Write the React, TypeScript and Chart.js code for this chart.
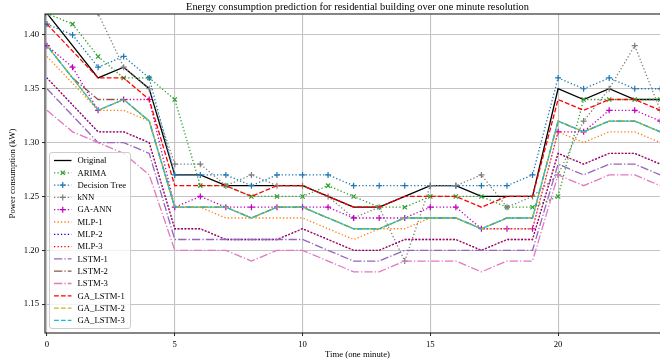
import React, { useEffect, useRef } from "react";
import { Chart, registerables } from "chart.js";

Chart.register(...registerables);

const TITLE = "Energy consumption prediction for residential building over one minute resolution";
const X_LABEL = "Time (one minute)";
const Y_LABEL = "Power consumption (kW)";

const TIME = [0, 1, 2, 3, 4, 5, 6, 7, 8, 9, 10, 11, 12, 13, 14, 15, 16, 17, 18, 19, 20, 21, 22, 23, 24];
const X_TICKS = [0, 5, 10, 15, 20];
const Y_TICKS = [1.15, 1.2, 1.25, 1.3, 1.35, 1.4];

const ORIGINAL = [1.42, 1.39, 1.36, 1.37, 1.35, 1.27, 1.27, 1.26, 1.26, 1.26, 1.26, 1.25, 1.24, 1.24, 1.25, 1.26, 1.26, 1.25, 1.25, 1.25, 1.35, 1.34, 1.35, 1.34, 1.34];
const ARIMA = [1.42, 1.41, 1.38, 1.36, 1.36, 1.34, 1.26, 1.26, 1.25, 1.25, 1.25, 1.26, 1.25, 1.24, 1.24, 1.25, 1.25, 1.25, 1.24, 1.24, 1.25, 1.34, 1.34, 1.34, 1.34];
const DECISION_TREE = [1.41, 1.4, 1.37, 1.38, 1.36, 1.27, 1.27, 1.27, 1.26, 1.27, 1.27, 1.27, 1.26, 1.26, 1.26, 1.26, 1.26, 1.26, 1.26, 1.27, 1.36, 1.35, 1.36, 1.35, 1.35];
const KNN = [1.46, 1.44, 1.42, 1.37, 1.35, 1.28, 1.28, 1.26, 1.27, 1.26, 1.26, 1.25, 1.23, 1.24, 1.19, 1.26, 1.26, 1.27, 1.24, 1.25, 1.27, 1.32, 1.35, 1.39, 1.33];
const GA_ANN = [1.39, 1.37, 1.33, 1.34, 1.34, 1.24, 1.25, 1.24, 1.24, 1.24, 1.24, 1.24, 1.23, 1.23, 1.23, 1.24, 1.24, 1.22, 1.22, 1.22, 1.31, 1.31, 1.33, 1.33, 1.32];
const MLP_1 = [1.38, 1.355, 1.33, 1.33, 1.32, 1.24, 1.24, 1.23, 1.23, 1.23, 1.23, 1.22, 1.21, 1.22, 1.22, 1.23, 1.23, 1.22, 1.22, 1.22, 1.31, 1.3, 1.31, 1.31, 1.3];
const MLP_2 = [1.36, 1.335, 1.31, 1.31, 1.3, 1.22, 1.22, 1.21, 1.21, 1.21, 1.22, 1.21, 1.2, 1.2, 1.21, 1.21, 1.21, 1.2, 1.21, 1.21, 1.29, 1.28, 1.29, 1.29, 1.28];
const MLP_3 = [1.36, 1.335, 1.31, 1.31, 1.3, 1.22, 1.22, 1.21, 1.21, 1.21, 1.22, 1.21, 1.2, 1.2, 1.21, 1.21, 1.21, 1.2, 1.21, 1.21, 1.29, 1.28, 1.29, 1.29, 1.28];
const LSTM_1 = [1.35, 1.325, 1.3, 1.3, 1.29, 1.21, 1.21, 1.21, 1.21, 1.21, 1.21, 1.2, 1.19, 1.19, 1.2, 1.2, 1.2, 1.2, 1.2, 1.2, 1.28, 1.27, 1.28, 1.28, 1.27];
const LSTM_2 = [1.39, 1.36, 1.34, 1.34, 1.32, 1.24, 1.24, 1.24, 1.23, 1.24, 1.24, 1.23, 1.22, 1.22, 1.23, 1.23, 1.23, 1.22, 1.23, 1.23, 1.32, 1.31, 1.32, 1.32, 1.31];
const LSTM_3 = [1.33, 1.31, 1.3, 1.29, 1.27, 1.2, 1.2, 1.2, 1.19, 1.2, 1.2, 1.19, 1.18, 1.18, 1.19, 1.19, 1.19, 1.18, 1.19, 1.19, 1.27, 1.26, 1.27, 1.27, 1.26];
const GA_LSTM_1 = [1.41, 1.385, 1.36, 1.36, 1.34, 1.26, 1.26, 1.26, 1.25, 1.26, 1.26, 1.25, 1.24, 1.24, 1.25, 1.25, 1.25, 1.24, 1.25, 1.25, 1.34, 1.33, 1.34, 1.34, 1.33];
const GA_LSTM_2 = [1.39, 1.36, 1.33, 1.34, 1.32, 1.24, 1.24, 1.24, 1.23, 1.24, 1.24, 1.23, 1.22, 1.22, 1.23, 1.23, 1.23, 1.22, 1.23, 1.23, 1.32, 1.31, 1.32, 1.32, 1.31];
const GA_LSTM_3 = [1.39, 1.36, 1.33, 1.34, 1.32, 1.24, 1.24, 1.24, 1.23, 1.24, 1.24, 1.23, 1.22, 1.22, 1.23, 1.23, 1.23, 1.22, 1.23, 1.23, 1.32, 1.31, 1.32, 1.32, 1.31];

const LW = 1.3;
const DASHES: Record<string, number[]> = {
  solid: [],
  dotted: [1.3, 2.15],
  dashed: [4.8, 2.1],
  dashdot: [8.3, 2.1, 1.3, 2.1],
};

type Series = { label: string; data: number[]; color: string; dash: string; offset?: number; marker?: string };

const SERIES: Series[] = [
  { label: "Original", data: ORIGINAL, color: "#000000", dash: "solid" },
  { label: "ARIMA", data: ARIMA, color: "#2ca02c", dash: "dotted", marker: "crossRot" },
  { label: "Decision Tree", data: DECISION_TREE, color: "#1f77b4", dash: "dotted", marker: "cross" },
  { label: "kNN", data: KNN, color: "#7f7f7f", dash: "dotted", marker: "cross" },
  { label: "GA-ANN", data: GA_ANN, color: "#bf00bf", dash: "dotted", marker: "cross" },
  { label: "MLP-1", data: MLP_1, color: "#ff7f0e", dash: "dotted" },
  { label: "MLP-2", data: MLP_2, color: "#0000ff", dash: "dotted" },
  { label: "MLP-3", data: MLP_3, color: "#ff0000", dash: "dotted", offset: 0.8 },
  { label: "LSTM-1", data: LSTM_1, color: "#9467bd", dash: "dashdot" },
  { label: "LSTM-2", data: LSTM_2, color: "#8c564b", dash: "dashdot" },
  { label: "LSTM-3", data: LSTM_3, color: "#e377c2", dash: "dashdot" },
  { label: "GA_LSTM-1", data: GA_LSTM_1, color: "#ff0000", dash: "dashed" },
  { label: "GA_LSTM-2", data: GA_LSTM_2, color: "#bcbd22", dash: "dashed" },
  { label: "GA_LSTM-3", data: GA_LSTM_3, color: "#17becf", dash: "dashed", offset: 3 },
];

const FONT = "'Liberation Serif', 'Times New Roman', serif";

function drawMarker(ctx: CanvasRenderingContext2D, style: string, x: number, y: number, r: number) {
  ctx.beginPath();
  if (style === "cross") {
    ctx.moveTo(x - r, y);
    ctx.lineTo(x + r, y);
    ctx.moveTo(x, y - r);
    ctx.lineTo(x, y + r);
  } else {
    const d = r * 0.7071;
    ctx.moveTo(x - d, y - d);
    ctx.lineTo(x + d, y + d);
    ctx.moveTo(x - d, y + d);
    ctx.lineTo(x + d, y - d);
  }
  ctx.stroke();
}

const overlayPlugin = {
  id: "overlay",
  afterDraw(chart: any) {
    const { ctx, chartArea: a } = chart;
    ctx.save();
    ctx.setLineDash([]);
    ctx.strokeStyle = "#222222";
    ctx.lineWidth = 1.1;
    ctx.strokeRect(a.left, a.top, a.right - a.left, a.bottom - a.top);

    ctx.fillStyle = "#000";
    ctx.font = `10.4px ${FONT}`;
    ctx.textAlign = "center";
    ctx.textBaseline = "alphabetic";
    ctx.fillText(TITLE, (a.left + a.right) / 2, 9.5);

    ctx.font = `8.7px ${FONT}`;
    ctx.textBaseline = "middle";
    ctx.fillText(X_LABEL, (a.left + a.right) / 2, 355);
    ctx.save();
    ctx.translate(13, (a.top + a.bottom) / 2);
    ctx.rotate(-Math.PI / 2);
    ctx.fillText(Y_LABEL, 0, 0);
    ctx.restore();

    const lx = 49.5, ly = 152.5, lw = 81, lh = 176, rr = 2.5;
    ctx.beginPath();
    ctx.moveTo(lx + rr, ly);
    ctx.lineTo(lx + lw - rr, ly);
    ctx.quadraticCurveTo(lx + lw, ly, lx + lw, ly + rr);
    ctx.lineTo(lx + lw, ly + lh - rr);
    ctx.quadraticCurveTo(lx + lw, ly + lh, lx + lw - rr, ly + lh);
    ctx.lineTo(lx + rr, ly + lh);
    ctx.quadraticCurveTo(lx, ly + lh, lx, ly + lh - rr);
    ctx.lineTo(lx, ly + rr);
    ctx.quadraticCurveTo(lx, ly, lx + rr, ly);
    ctx.closePath();
    ctx.fillStyle = "rgba(255,255,255,0.8)";
    ctx.fill();
    ctx.strokeStyle = "#cccccc";
    ctx.lineWidth = 1;
    ctx.stroke();

    ctx.textAlign = "left";
    ctx.textBaseline = "middle";
    chart.data.datasets.forEach((ds: any, i: number) => {
      const y = 160.5 + i * 12.3;
      ctx.strokeStyle = ds.borderColor;
      ctx.lineWidth = LW;
      ctx.setLineDash(ds.borderDash || []);
      ctx.lineDashOffset = 0;
      ctx.beginPath();
      ctx.moveTo(54, y);
      ctx.lineTo(71.5, y);
      ctx.stroke();
      ctx.setLineDash([]);
      if (ds.pointRadius > 0) {
        ctx.lineWidth = 1.2;
        drawMarker(ctx, ds.pointStyle, 62.75, y, 3);
      }
      ctx.fillStyle = "#000";
      ctx.fillText(ds.label, 77.5, y + 0.5);
    });
    ctx.restore();
  },
};

export default function App() {
  const ref = useRef<HTMLCanvasElement | null>(null);

  useEffect(() => {
    document.body.style.margin = "0";
    const canvas = ref.current;
    if (!canvas) return;
    const n = SERIES.length;
    const datasets = SERIES.map((s, i) => ({
      label: s.label,
      data: s.data.map((v, k) => ({ x: TIME[k], y: v })),
      borderColor: s.color,
      backgroundColor: s.color,
      borderWidth: LW,
      borderDash: DASHES[s.dash],
      borderDashOffset: s.offset || 0,
      borderCapStyle: "butt",
      pointStyle: s.marker || "circle",
      pointRadius: s.marker ? 3 : 0,
      pointBorderWidth: 1.2,
      pointBorderColor: s.color,
      pointBackgroundColor: s.color,
      pointHoverRadius: 0,
      tension: 0,
      fill: false,
      clip: 0,
      order: n - 1 - i,
    }));

    const chart = new Chart(canvas, {
      type: "line",
      data: { datasets },
      options: {
        animation: false,
        responsive: false,
        maintainAspectRatio: false,
        devicePixelRatio: 1,
        events: [],
        layout: { padding: { top: 14, right: 10, left: 0, bottom: 0 } },
        plugins: { legend: { display: false }, title: { display: false }, tooltip: { enabled: false } },
        scales: {
          x: {
            type: "linear",
            min: -0.078,
            max: 24.38,
            afterFit: (s: any) => { s.height = 31; },
            afterBuildTicks: (s: any) => { s.ticks = X_TICKS.map((v) => ({ value: v })); },
            border: { display: false },
            grid: { color: "#c4c4c4", lineWidth: 1.1, drawTicks: true, tickLength: 3, tickColor: "#222", tickWidth: 1 },
            ticks: { color: "#000", font: { family: FONT, size: 8.7 }, padding: 3, maxRotation: 0, callback: (v: any) => String(v) },
          },
          y: {
            type: "linear",
            min: 1.1232,
            max: 1.4194,
            afterFit: (s: any) => { s.width = 45; },
            afterBuildTicks: (s: any) => { s.ticks = Y_TICKS.map((v) => ({ value: v })); },
            border: { display: false },
            grid: { color: "#c4c4c4", lineWidth: 1.1, drawTicks: true, tickLength: 3, tickColor: "#222", tickWidth: 1 },
            ticks: { color: "#000", font: { family: FONT, size: 8.7 }, padding: 3, callback: (v: any) => Number(v).toFixed(2) },
          },
        },
      },
      plugins: [overlayPlugin],
    } as any);
    return () => chart.destroy();
  }, []);

  return (
    <div style={{ width: 660, height: 364, overflow: "hidden", background: "#fff" }}>
      <canvas ref={ref} width={680} height={364} style={{ width: 680, height: 364, display: "block" }} />
    </div>
  );
}
